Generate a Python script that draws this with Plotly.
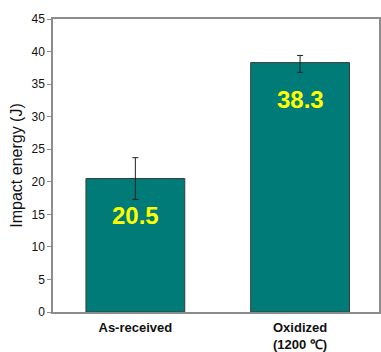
import plotly.graph_objects as go

# Charpy impact energy of the two specimen conditions
categories = ["As-received", "Oxidized<br>(1200 ℃)"]
impact_energy = [20.5, 38.3]
error_minus = [3.2, 1.5]
error_plus = [3.2, 1.1]
value_labels = ["20.5", "38.3"]
y_ticks = [0, 5, 10, 15, 20, 25, 30, 35, 40, 45]

FONT = "Liberation Sans, Arial, sans-serif"
AXIS_GRAY = "#8c8c8c"

fig = go.Figure()
fig.add_trace(go.Bar(
    x=categories,
    y=impact_energy,
    width=0.6,
    marker=dict(color="#007B78", line=dict(color="#3a3a3a", width=1)),
    error_y=dict(type="data", symmetric=False, array=error_plus,
                 arrayminus=error_minus, color="#222222", thickness=1, width=3),
    showlegend=False,
    hoverinfo="skip",
))

for cat, val, lab in zip(categories, impact_energy, value_labels):
    fig.add_annotation(
        x=cat, y=val, text=f"<b>{lab}</b>", showarrow=False,
        yanchor="middle", yshift=-37,
        font=dict(family=FONT, size=24, color="#FFFF00"),
    )

fig.update_layout(
    width=381, height=352,
    margin=dict(l=53, r=0, t=19, b=38),
    paper_bgcolor="white", plot_bgcolor="white",
    font=dict(family=FONT, color="#111111"),
    bargap=0.4,
)
fig.update_xaxes(
    range=[-0.5, 1.479],
    showline=True, linecolor=AXIS_GRAY, linewidth=1.5, mirror=True,
    ticks="", showgrid=False, ticklabelstandoff=3,
    tickfont=dict(family=FONT, size=13, color="#111111"),
    tickprefix="<b>", ticksuffix="</b>",
)
fig.update_yaxes(
    range=[0, 45], tickvals=y_ticks,
    showline=True, linecolor=AXIS_GRAY, linewidth=1.5, mirror=True,
    ticks="outside", ticklen=4, tickcolor=AXIS_GRAY, tickwidth=1,
    showgrid=False, zeroline=False,
    tickfont=dict(family=FONT, size=12, color="#111111"),
    title=dict(text="Impact energy (J)", font=dict(family=FONT, size=16, color="#111111"),
               standoff=5),
)

fig.write_html("out.html")
